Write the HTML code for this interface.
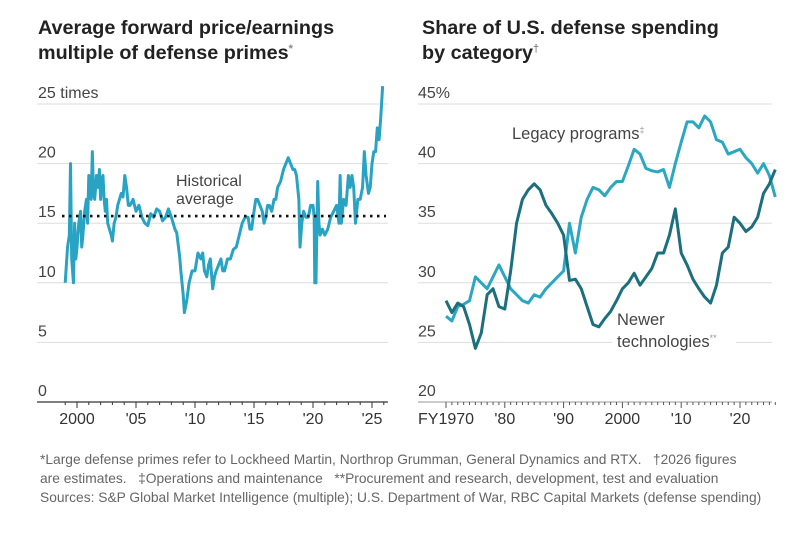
<!DOCTYPE html>
<html><head><meta charset="utf-8">
<style>
body{margin:0;background:#fff;width:800px;height:546px;overflow:hidden;font-family:"Liberation Sans",sans-serif}
svg text{font-family:"Liberation Sans",sans-serif}
.notes{position:absolute;left:40px;top:450px;font-family:"Liberation Sans Narrow","Liberation Sans",sans-serif;font-size:14px;line-height:19px;color:#666;white-space:nowrap;transform:scaleX(0.985);transform-origin:0 0}
</style></head><body>
<svg width="800" height="546" style="position:absolute;left:0;top:0" id="chart">
<text x="38" y="34" font-size="19.8" font-weight="bold" fill="#222">Average forward price/earnings</text>
<text x="38" y="59" font-size="19.8" font-weight="bold" fill="#222">multiple of defense primes<tspan font-size="11" fill="#888" dy="-7">*</tspan></text>
<text x="422" y="34" font-size="19.8" font-weight="bold" fill="#222">Share of U.S. defense spending</text>
<text x="422" y="59" font-size="19.8" font-weight="bold" fill="#222">by category<tspan font-size="11" fill="#888" dy="-7">†</tspan></text>
<g id="left"></g><g id="right"></g>
</svg>
<div class="notes">*Large defense primes refer to Lockheed Martin, Northrop Grumman, General Dynamics and RTX. &nbsp; †2026 figures<br>are estimates. &nbsp; ‡Operations and maintenance &nbsp; **Procurement and research, development, test and evaluation<br>Sources: S&amp;P Global Market Intelligence (multiple); U.S. Department of War, RBC Capital Markets (defense spending)</div>
<script>
const peYears=[1999.0,1999.2,1999.35,1999.45,1999.55,1999.7,1999.8,1999.9,2000,2000.15,2000.3,2000.4,2000.5,2000.65,2000.8,2000.9,2001,2001.1,2001.2,2001.3,2001.4,2001.5,2001.65,2001.8,2001.9,2002,2002.1,2002.2,2002.3,2002.4,2002.5,2002.6,2002.75,2002.9,2003,2003.15,2003.3,2003.45,2003.6,2003.75,2003.9,2004.05,2004.2,2004.35,2004.5,2004.75,2005,2005.25,2005.5,2005.75,2006,2006.25,2006.5,2006.75,2007,2007.25,2007.5,2007.75,2008,2008.15,2008.3,2008.45,2008.6,2008.7,2008.8,2008.9,2009,2009.1,2009.3,2009.5,2009.75,2010,2010.25,2010.5,2010.65,2010.8,2011,2011.15,2011.3,2011.5,2011.65,2011.8,2012,2012.2,2012.35,2012.5,2012.75,2013,2013.25,2013.5,2013.75,2014,2014.25,2014.5,2014.65,2014.8,2015,2015.15,2015.3,2015.5,2015.7,2015.85,2016,2016.15,2016.3,2016.5,2016.7,2016.85,2017,2017.25,2017.5,2017.7,2017.9,2018.1,2018.3,2018.45,2018.6,2018.7,2018.8,2018.9,2019.05,2019.2,2019.4,2019.6,2019.8,2020,2020.1,2020.15,2020.25,2020.4,2020.5,2020.6,2020.8,2021,2021.25,2021.5,2021.75,2022,2022.2,2022.3,2022.4,2022.6,2022.8,2023,2023.15,2023.3,2023.45,2023.6,2023.7,2023.8,2024,2024.2,2024.35,2024.5,2024.7,2024.85,2025,2025.15,2025.3,2025.45,2025.6,2025.75,2025.9,2026.0,2026.1,2026.2];
const peValues=[10,13,14,20,12,10,15,12,13,15,16,13,14,16,17,15,19,17.5,17,21,17.5,17,19,18,19.5,17,18.5,19,17,16,17,15,14.5,14,13.5,15,15.5,16.5,17,17.5,17.2,19,18,16.5,16.5,17,16,16.5,15.5,15,14.8,15.8,15.5,16.2,16,15.2,15.5,16.2,15.5,15,14.5,14.2,13,12.2,11,10,9,7.5,8.5,10,11,11,12.5,12,12.5,11,10.5,11.5,12,9.5,10.5,11,11.5,12,11,11,12,12,12.8,13,14,15,15.5,15.5,14.5,14.5,16,17,17,16.5,16,15,15.5,16.5,16.5,16,17,17,18,18.5,19.5,20,20.5,20,19.5,19.5,19,18,17,13,15,16,15.5,15.5,16.5,16.5,15.5,10,10,18.5,15,14,14.5,14,14.5,15.5,16,16.5,15,19,15,17,16.5,19,18,19,18,15,16,17,17,18,21,19,17.5,18,20,21,21,23,22,24,26.5];
const peTicks=[0,5,10,15,20,25];
const peTickLabels=["0","5","10","15","20","25 times"];
const peXTicks=[2000,2005,2010,2015,2020,2025];
const peXLabels=["2000","'05","'10","'15","'20","'25"];
const histAvg=15.6;
const spYears=[1970,1971,1972,1973,1974,1975,1976,1977,1978,1979,1980,1981,1982,1983,1984,1985,1986,1987,1988,1989,1990,1991,1992,1993,1994,1995,1996,1997,1998,1999,2000,2001,2002,2003,2004,2005,2006,2007,2008,2009,2010,2011,2012,2013,2014,2015,2016,2017,2018,2019,2020,2021,2022,2023,2024,2025,2026];
const legacy=[27.2,26.8,28,28.2,28.5,30.5,30,29.5,30.5,31.5,30.5,29.5,29,28.5,28.3,29,28.8,29.5,30,30.5,31,35,32.5,35.5,37,38,37.8,37.3,38,38.5,38.5,39.8,41.2,40.8,39.6,39.4,39.3,39.5,38,40,41.8,43.5,43.5,43,44,43.5,42,41.8,40.8,41,41.2,40.5,40,39.2,40,39,37.2];
const newer=[28.5,27.5,28.3,28,26.5,24.5,25.8,29,29.5,28,27.8,31,35,37,37.8,38.3,37.8,36.5,35.8,35,34,30.2,30.3,29.5,28,26.5,26.3,27,27.6,28.5,29.5,30,30.8,29.8,30.5,31.2,32.5,32.5,34,36.2,32.5,31.5,30.3,29.5,28.8,28.3,29.8,32.5,33,35.5,35,34.3,34.7,35.5,37.5,38.3,39.5];
const spTicks=[20,25,30,35,40,45];
const spTickLabels=["20","25","30","35","40","45%"];
const spXTicks=[1970,1980,1990,2000,2010,2020];
const spXLabels=["FY1970","'80","'90","2000","'10","'20"];

const NS="http://www.w3.org/2000/svg";
function mk(parent,tag,attrs,name){const e=document.createElementNS(NS,tag);for(const k in attrs)e.setAttribute(k,attrs[k]);


parent.appendChild(e);return e;}
const yTop=104,yBot=402;
function lin(d0,d1,r0,r1){return v=>r0+(v-d0)/(d1-d0)*(r1-r0);}

// left chart
const L=document.getElementById('left');
const lx=lin(2000,2025,77,372), ly=lin(0,25,yBot,yTop);
peTicks.forEach((t,i)=>{
 if(t>0) mk(L,'line',{x1:37,x2:388,y1:ly(t),y2:ly(t),stroke:'#ddd','stroke-width':1},'y-gridline');
 const tx=mk(L,'text',{x:38,y:ly(t)-6,'font-size':16,fill:'#444'},'y-tick-label');tx.textContent=peTickLabels[i];
});
mk(L,'line',{x1:37,x2:388,y1:yBot,y2:yBot,stroke:'#333','stroke-width':1.2},'x-axis');
for(let y=1999;y<=2026;y++){mk(L,'line',{x1:lx(y),x2:lx(y),y1:yBot,y2:yBot+(y%5==0?6:3),stroke:'#333','stroke-width':1},'x-tick');}
peXTicks.forEach((t,i)=>{const tx=mk(L,'text',{x:lx(t),y:yBot+22,'font-size':16,fill:'#333','text-anchor':'middle'},'x-tick-label');tx.textContent=peXLabels[i];});
mk(L,'polyline',{points:peYears.map((y,i)=>lx(y)+','+ly(peValues[i])).join(' '),fill:'none',stroke:'#29a3c4','stroke-width':3,'stroke-linejoin':'round'},'pe-line');
mk(L,'line',{x1:62,x2:386,y1:ly(histAvg),y2:ly(histAvg),stroke:'#111','stroke-width':2.6,'stroke-dasharray':'2.5 4.5'},'historical-average-line');
let t1=mk(L,'text',{x:176,y:186,'font-size':16,fill:'#444'},'historical-average-label');t1.textContent='Historical';
let t2=mk(L,'text',{x:176,y:204,'font-size':16,fill:'#444'},'historical-average-label-line2');t2.textContent='average';

// right chart
const R=document.getElementById('right');
const rx=lin(1970,2020,446,740), ry=lin(20,45,yBot,yTop);
spTicks.forEach((t,i)=>{
 if(t>20) mk(R,'line',{x1:418,x2:772,y1:ry(t),y2:ry(t),stroke:'#ddd','stroke-width':1},'y-gridline');
 const tx=mk(R,'text',{x:418,y:ry(t)-6,'font-size':16,fill:'#444'},'y-tick-label');tx.textContent=spTickLabels[i];
});
mk(R,'line',{x1:418,x2:772,y1:yBot,y2:yBot,stroke:'#999','stroke-width':1},'x-axis');
for(let y=1970;y<=2026;y++){mk(R,'line',{x1:rx(y),x2:rx(y),y1:yBot,y2:yBot+(y%10==0?6:3),stroke:'#555','stroke-width':1},'x-tick');}
spXTicks.forEach((t,i)=>{const tx=mk(R,'text',{x:i==0?rx(t)-28:rx(t),y:yBot+22,'font-size':16,fill:'#333','text-anchor':i==0?'start':'middle'},'x-tick-label');tx.textContent=spXLabels[i];});
mk(R,'polyline',{points:spYears.map((y,i)=>rx(y)+','+ry(legacy[i])).join(' '),fill:'none',stroke:'#2ba7c2','stroke-width':3,'stroke-linejoin':'round'},'legacy-line');
mk(R,'polyline',{points:spYears.map((y,i)=>rx(y)+','+ry(newer[i])).join(' '),fill:'none',stroke:'#1c6f7d','stroke-width':3,'stroke-linejoin':'round'},'newer-line');
mk(R,'rect',{x:612,y:330,width:124,height:20,fill:'#fff'},'label-background');
let t3=mk(R,'text',{x:512,y:139,'font-size':16.5,fill:'#444'},'legacy-label');t3.innerHTML='Legacy programs<tspan font-size="9" fill="#999" dy="-6">‡</tspan>';
let t4=mk(R,'text',{x:617,y:325,'font-size':16.5,fill:'#444'},'newer-label');t4.textContent='Newer';
let t5=mk(R,'text',{x:617,y:347,'font-size':16.5,fill:'#444'},'newer-label-line2');t5.innerHTML='technologies<tspan font-size="9" fill="#999" dy="-6">**</tspan>';
</script>
</body></html>
